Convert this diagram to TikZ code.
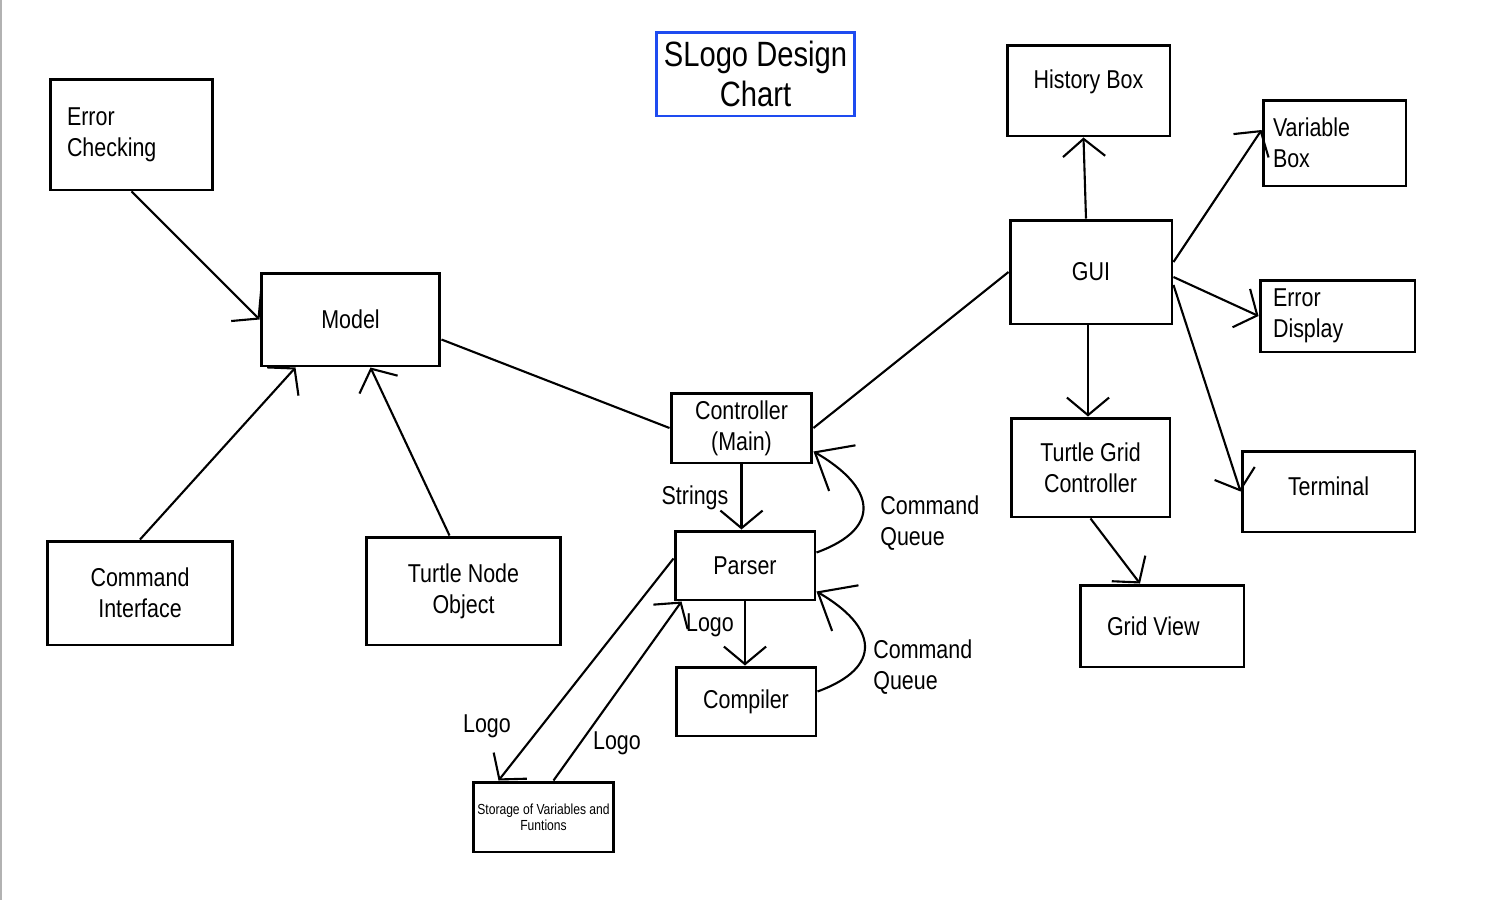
\documentclass[tikz,border=0pt]{standalone}
\usepackage{fontspec}
\setmainfont{Liberation Sans}[FakeStretch=0.83]
\usetikzlibrary{arrows.meta}
\definecolor{titleblue}{RGB}{30,75,240}

\tikzset{
	box/.style={draw, line width=1.7pt, align=center, inner sep=0pt, font=\fontsize{14.7}{17.6}\selectfont},
	lbl/.style={inner sep=0pt, align=left, font=\fontsize{14.7}{17.6}\selectfont},
	link/.style={line width=1.2pt},
	flow/.style={line width=1.2pt, -{Straight Barb[length=10pt,width=24pt]}},
	back/.style={line width=1.2pt, -{Straight Barb[length=18pt,width=30pt]}}
}

\begin{document}
\begin{tikzpicture}[x=0.02cm, y=-0.02cm]
	\fill[white] (0,0) rectangle (1502,900);
	\useasboundingbox (0,0) rectangle (1502,900);
	\draw[gray!60, line width=1.2pt] (1,0) -- (1,900);
	
	% title
	\node[box, draw=titleblue, minimum width=3.98cm, minimum height=1.68cm,
	font=\fontsize{20}{22.7}\selectfont] (title) at (755.5,74) {SLogo Design\\Chart};
	
	% model side
	\node[box, minimum width=3.26cm, minimum height=2.22cm, align=left,
	text width=2.58cm, inner xsep=0.34cm] (errchk) at (131.5,134.5) {Error\\Checking};
	\node[box, minimum width=3.58cm, minimum height=1.86cm] (model) at (350.5,319.5) {Model};
	\node[box, minimum width=3.72cm, minimum height=2.08cm] (cmdif) at (140,593) {Command\\Interface};
	\node[box, minimum width=3.9cm, minimum height=2.16cm] (turtlenode) at (463.5,591) {Turtle Node\\Object};
	
	% middle
	\node[box, minimum width=2.82cm, minimum height=1.40cm] (controller) at (741.5,428) {Controller\\(Main)};
	\node[box, minimum width=2.80cm, minimum height=1.38cm] (parser) at (745,565.5) {Parser};
	\node[box, minimum width=2.80cm, minimum height=1.38cm] (compiler) at (746,701.5) {Compiler};
	\node[box, minimum width=2.82cm, minimum height=1.40cm,
	font=\fontsize{8.3}{9}\selectfont] (storage) at (543.5,817) {Storage of Variables and\\Funtions};
	
	% view side
	\node[box, minimum width=3.26cm, minimum height=1.82cm, text depth=0.45cm] (history) at (1088.5,90.5) {History Box};
	\node[box, minimum width=3.24cm, minimum height=2.08cm] (gui) at (1091,272) {GUI};
	\node[box, minimum width=2.86cm, minimum height=1.72cm, align=left,
	text width=2.46cm, inner xsep=0.2cm] (varbox) at (1334.5,143) {Variable\\Box};
	\node[box, minimum width=3.10cm, minimum height=1.44cm, align=left,
	text width=2.58cm, inner xsep=0.26cm] (errdisp) at (1337.5,316) {Error\\Display};
	\node[box, minimum width=3.46cm, minimum height=1.62cm, text depth=0.2cm] (terminal) at (1328.5,491.5) {Terminal};
	\node[box, minimum width=3.18cm, minimum height=1.98cm] (turtlegrid) at (1090.5,467.5) {Turtle Grid\\Controller};
	\node[box, minimum width=3.28cm, minimum height=1.64cm, align=flush left,
	text width=2.2cm, inner xsep=0.54cm] (gridview) at (1162,626) {Grid View};
	
	% connectors
	\draw[flow] (errchk.south) -- (model.west);
	\draw[flow] (cmdif.north) -- ([xshift=0.72cm]model.south west);
	\draw[flow] ([xshift=-0.28cm]turtlenode.north) -- ([xshift=0.4cm]model.south);
	\draw[link] ([yshift=-0.4cm]model.east) -- (controller.west);
	\draw[link] (controller.east) -- (gui.west);
	
	\draw[flow] ([xshift=-0.1cm]gui.north) -- ([xshift=-0.1cm]history.south);
	\draw[flow] ([yshift=0.2cm]gui.east) -- ([yshift=0.26cm]varbox.west);
	\draw[flow] ([yshift=-0.1cm]gui.east) -- (errdisp.west);
	\draw[flow] ([yshift=-0.26cm]gui.east) -- (terminal.west);
	\draw[flow] ([xshift=-0.06cm]gui.south) -- ([xshift=-0.06cm]gui.south |- turtlegrid.north);
	\draw[flow] (turtlegrid.south) -- ([xshift=-0.44cm]gridview.north);
	
	\draw[flow] (controller.south) -- (controller.south |- parser.north);
	\draw[flow] (parser.south) -- (parser.south |- compiler.north);
	\draw[flow] ([yshift=0.14cm]parser.west) -- ([xshift=0.54cm]storage.north west);
	\draw[flow] ([xshift=0.2cm]storage.north) -- ([xshift=0.16cm]parser.south west);
	\draw[back] ([yshift=0.26cm]parser.east) to[out=20, in=-30, looseness=1.8]
	([yshift=0.26cm]controller.south east);
	\draw[back] ([yshift=0.2cm]compiler.east) to[out=20, in=-30, looseness=1.8]
	([yshift=0.2cm]parser.south east);
	
	% labels
	\node[lbl] (strlbl) at (695,498) {Strings};
	\node[lbl] (logolbl) at (710,625) {Logo};
	\node[lbl] (logodown) at (487,726) {Logo};
	\node[lbl] (logoup) at (617,743) {Logo};
	\node[lbl, anchor=west] (queuetop) at (880,523) {Command\\Queue};
	\node[lbl, anchor=west] (queuelow) at (873,667) {Command\\Queue};
\end{tikzpicture}
\end{document}
